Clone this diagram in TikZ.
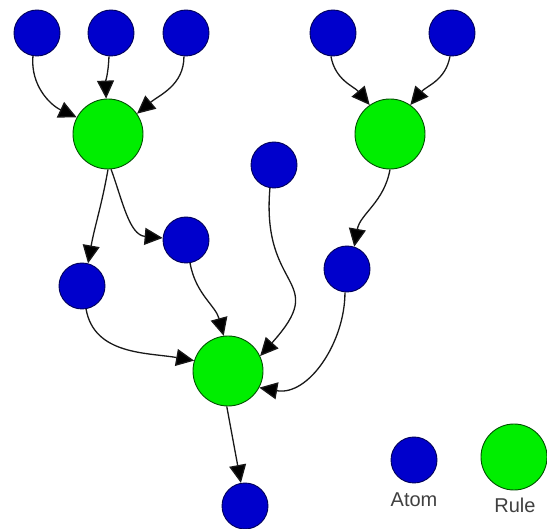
\documentclass[tikz,border=0pt]{standalone}
\usepackage{fontspec}
\setmainfont{Liberation Sans}
\usetikzlibrary{arrows.meta}
\definecolor{atomblue}{RGB}{0,0,204}
\definecolor{atomedge}{RGB}{0,0,90}
\definecolor{rulegreen}{RGB}{0,238,0}
\definecolor{ruleedge}{RGB}{0,80,0}
\definecolor{linegray}{RGB}{25,25,25}
\tikzset{
  atom/.style={circle, fill=atomblue, draw=atomedge, line width=0.9pt, minimum size=46pt, inner sep=0pt},
  rule/.style={circle, fill=rulegreen, draw=ruleedge, line width=0.9pt, minimum size=70pt, inner sep=0pt},
  link/.style={draw=linegray, line width=1.3pt, -{Triangle[length=18pt,width=17pt,fill=black]}},
  lab/.style={font=\fontsize{20}{22}\selectfont, text=black!75}
}
\begin{document}
\begin{tikzpicture}[x=1pt,y=-1pt]
\useasboundingbox (0,0) rectangle (547,529);
% atoms
\node[atom] (b1) at (37,33) {};
\node[atom] (b2) at (111,33) {};
\node[atom] (b3) at (186,33) {};
\node[atom] (b4) at (333,33) {};
\node[atom] (b5) at (452,33) {};
\node[atom] (b6) at (82,286) {};
\node[atom] (b7) at (186,240) {};
\node[atom] (b8) at (347,269) {};
\node[atom] (b9) at (274,165) {};
\node[atom] (b10) at (245,506) {};
% rules
\node[rule] (g1) at (108,134) {};
\node[rule] (g2) at (390,134) {};
\node[rule] (g3) at (228,371) {};
% legend
\node[atom] (la) at (414,460) {};
\node[rule, minimum size=66pt] (lr) at (514,457) {};
\node[lab] (lat) at (414,500) {Atom};
\node[lab] (lrt) at (515,505) {Rule};
% connectors
\draw[link] (b1.-100) to[out=-95,in=155] (g1.152);
\draw[link] (b2.-95) to[out=-92,in=92] (g1.93);
\draw[link] (b3.-95) to[out=-90,in=40] (g1.35);
\draw[link] (b4.-95) to[out=-80,in=130] (g2.125);
\draw[link] (b5.-95) to[out=-100,in=50] (g2.55);
\draw[link] (g1.-90) to[out=-100,in=80] (b6.75);
\draw[link] (g1.-85) to[out=-70,in=175] (b7.175);
\draw[link] (g2.-90) to[out=-100,in=80] (b8.72);
\draw[link] (b6.-80) to[out=-80,in=170] (g3.163);
\draw[link] (b7.-80) to[out=-80,in=105] (g3.97);
\draw[link] (b9.-100) to[out=-95,in=48,looseness=1.6] (g3.25);
\draw[link] (b8.-95) to[out=-90,in=-10] (g3.-28);
\draw[link] (g3.-92) -- (b10.100);
\end{tikzpicture}
\end{document}
